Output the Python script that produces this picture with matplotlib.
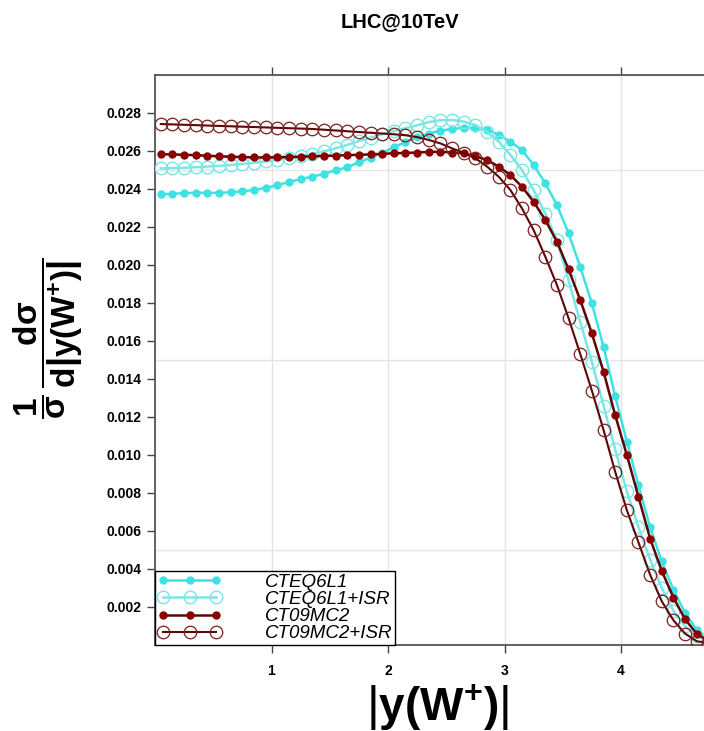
import matplotlib
matplotlib.use("Agg")
import matplotlib.pyplot as plt
from matplotlib.ticker import MultipleLocator, FixedLocator, FormatStrFormatter

plt.rcParams['font.family'] = ['Liberation Sans', 'DejaVu Sans']
plt.rcParams['mathtext.fontset'] = 'custom'
plt.rcParams['mathtext.rm'] = 'Liberation Sans'
plt.rcParams['mathtext.it'] = 'Liberation Sans:italic'
plt.rcParams['mathtext.bf'] = 'Liberation Sans:bold'

# |y(W+)| bin centres
abs_y = [0.05, 0.15, 0.25, 0.35, 0.45, 0.55, 0.65, 0.75, 0.85, 0.95,
         1.05, 1.15, 1.25, 1.35, 1.45, 1.55, 1.65, 1.75, 1.85, 1.95,
         2.05, 2.15, 2.25, 2.35, 2.45, 2.55, 2.65, 2.75, 2.85, 2.95,
         3.05, 3.15, 3.25, 3.35, 3.45, 3.55, 3.65, 3.75, 3.85, 3.95,
         4.05, 4.15, 4.25, 4.35, 4.45, 4.55, 4.65, 4.75]

cteq6l1 = [0.02372, 0.02375, 0.02378, 0.02380, 0.02380, 0.02380, 0.02383, 0.02388, 0.02395, 0.02405,
           0.02420, 0.02437, 0.02452, 0.02465, 0.02480, 0.02498, 0.02515, 0.02540, 0.02565, 0.02590,
           0.02620, 0.02647, 0.02672, 0.02692, 0.02707, 0.02716, 0.02722, 0.02722, 0.02712, 0.02686,
           0.02649, 0.02605, 0.02526, 0.02430, 0.02316, 0.02167, 0.01990, 0.01798, 0.01570, 0.01310,
           0.01070, 0.00840, 0.00620, 0.00440, 0.00290, 0.00170, 0.00080, 0.00030]

cteq6l1_isr = [0.02508, 0.02510, 0.02512, 0.02515, 0.02518, 0.02522, 0.02526, 0.02532, 0.02538, 0.02545,
               0.02553, 0.02562, 0.02572, 0.02584, 0.02598, 0.02614, 0.02632, 0.02652, 0.02670, 0.02688,
               0.02705, 0.02720, 0.02735, 0.02752, 0.02762, 0.02763, 0.02755, 0.02737, 0.02700, 0.02650,
               0.02580, 0.02500, 0.02395, 0.02270, 0.02130, 0.01920, 0.01700, 0.01490, 0.01260, 0.01030,
               0.00810, 0.00620, 0.00450, 0.00300, 0.00180, 0.00100, 0.00050, 0.00020]

ct09mc2 = [0.02583, 0.02582, 0.02580, 0.02578, 0.02575, 0.02572, 0.02570, 0.02568, 0.02566, 0.02566,
           0.02567, 0.02568, 0.02570, 0.02572, 0.02574, 0.02576, 0.02578, 0.02580, 0.02582, 0.02585,
           0.02588, 0.02590, 0.02592, 0.02595, 0.02596, 0.02592, 0.02588, 0.02572, 0.02553, 0.02518,
           0.02474, 0.02412, 0.02333, 0.02237, 0.02123, 0.01977, 0.01816, 0.01640, 0.01439, 0.01210,
           0.01000, 0.00780, 0.00560, 0.00390, 0.00250, 0.00135, 0.00060, 0.00020]

ct09mc2_isr = [0.02742, 0.02740, 0.02738, 0.02736, 0.02734, 0.02732, 0.02730, 0.02728, 0.02726, 0.02724,
               0.02722, 0.02720, 0.02718, 0.02716, 0.02712, 0.02708, 0.02704, 0.02700, 0.02696, 0.02692,
               0.02688, 0.02683, 0.02673, 0.02658, 0.02640, 0.02614, 0.02590, 0.02562, 0.02518, 0.02465,
               0.02395, 0.02298, 0.02184, 0.02044, 0.01895, 0.01720, 0.01532, 0.01339, 0.01132, 0.00912,
               0.00710, 0.00540, 0.00370, 0.00230, 0.00130, 0.00060, 0.00020, 0.00010]

labels = ['CTEQ6L1', 'CTEQ6L1+ISR', 'CT09MC2', 'CT09MC2+ISR']
x_ticks = [1, 2, 3, 4]
y_ticks = [0.002, 0.004, 0.006, 0.008, 0.010, 0.012, 0.014,
           0.016, 0.018, 0.020, 0.022, 0.024, 0.026, 0.028]

W, H = 704, 731
fig = plt.figure(figsize=(W / 100, H / 100), dpi=100)
left, right, top, bottom = 155, 737.5, 75, 645
ax = fig.add_axes([left / W, 1 - bottom / H, (right - left) / W, (bottom - top) / H])

cyan = '#3ee2e2'
cyan_open = '#7ae6e6'
dred = '#8b0000'
dred_line = '#5e0505'

ax.plot(abs_y, cteq6l1, color=cyan, lw=1.8, marker='o', ms=5,
        mfc=cyan, mec=cyan, label=labels[0], zorder=3)
ax.plot(abs_y, cteq6l1_isr, color=cyan_open, lw=1.8, marker='o', ms=9,
        mfc='none', mec=cyan_open, mew=1.0, label=labels[1], zorder=3)
ax.plot(abs_y, ct09mc2, color=dred_line, lw=1.8, marker='o', ms=5,
        mfc=dred, mec=dred, label=labels[2], zorder=4)
ax.plot(abs_y, ct09mc2_isr, color=dred_line, lw=1.5, marker='o', ms=9,
        mfc='none', mec='#7a2020', mew=0.9, label=labels[3], zorder=4)

ax.set_xlim(0, 5)
ax.set_ylim(0, 0.030)
ax.xaxis.set_major_locator(FixedLocator(x_ticks))
ax.yaxis.set_major_locator(FixedLocator(y_ticks))
ax.yaxis.set_major_formatter(FormatStrFormatter('%.3f'))
ax.yaxis.set_minor_locator(MultipleLocator(0.005))
ax.grid(True, which='major', axis='x', color='#e4e4e4', lw=1.0, zorder=0)
ax.grid(True, which='minor', axis='y', color='#e4e4e4', lw=1.0, zorder=0)
ax.set_axisbelow(True)

ax.tick_params(axis='both', which='major', direction='out', length=6, width=1.0,
               color='#444444', labelsize=10, pad=4)
ax.tick_params(axis='x', pad=8)
ax.tick_params(axis='y', which='minor', length=0)
ax.tick_params(axis='x', top=True, labeltop=False)
for lab in ax.get_xticklabels() + ax.get_yticklabels():
    lab.set_fontweight('bold')
for s in ax.spines.values():
    s.set_color('#555555')
    s.set_linewidth(1.3)

leg = ax.legend(loc='lower left', bbox_to_anchor=(0, 0), borderaxespad=0,
                numpoints=3, handlelength=3.4, handletextpad=2.3,
                labelspacing=0.0, borderpad=0.15, fancybox=False,
                edgecolor='black', framealpha=1, prop={'style': 'italic', 'size': 13.5})
leg.get_frame().set_linewidth(1.0)

fig.text(400 / W, 1 - 22 / H, 'LHC@10TeV', ha='center', va='center',
         fontsize=14.5, fontweight='bold')
fig.text(437 / W, 1 - 707 / H, r'$\left|\mathbf{y(W^{+})}\right|$', ha='center',
         va='center', fontsize=33)
fig.text(48 / W, 1 - 338 / H,
         r'$\mathbf{\dfrac{1}{\sigma}\,\dfrac{d\sigma}{d\left|y(W^{+})\right|}}$',
         ha='center', va='center', rotation=90, fontsize=24)

fig.savefig('out.png', dpi=100)
